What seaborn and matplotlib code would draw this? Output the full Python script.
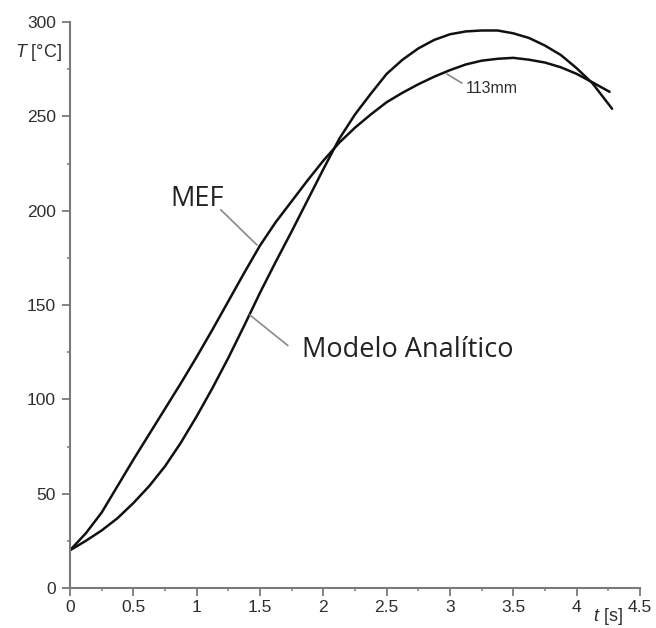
import matplotlib
matplotlib.use("Agg")
import matplotlib.pyplot as plt
from matplotlib.ticker import MultipleLocator
import seaborn as sns
import pandas as pd

# ---- data ----
t_mef = [0.0, 0.125, 0.25, 0.375, 0.5, 0.625, 0.75, 0.875, 1.0, 1.125, 1.25, 1.375, 1.5,
         1.625, 1.75, 1.875, 2.0, 2.125, 2.25, 2.375, 2.5, 2.625, 2.75, 2.875, 3.0, 3.125,
         3.25, 3.375, 3.5, 3.625, 3.75, 3.875, 4.0, 4.125, 4.26]
T_mef = [20, 29, 40, 54, 68, 81.5, 95, 108.5, 122.5, 137, 152, 167, 181.5,
         194, 205, 216, 226.5, 236, 244, 251, 257.5, 262.5, 267, 271, 274.5, 277.5,
         279.5, 280.5, 281, 280, 278.5, 276, 272.5, 268, 263]

t_mod = [0.0, 0.125, 0.25, 0.375, 0.5, 0.625, 0.75, 0.875, 1.0, 1.125, 1.25, 1.375, 1.5,
         1.625, 1.75, 1.875, 2.0, 2.125, 2.25, 2.375, 2.5, 2.625, 2.75, 2.875, 3.0, 3.125,
         3.25, 3.375, 3.5, 3.625, 3.75, 3.875, 4.0, 4.125, 4.28]
T_mod = [20, 25, 30.5, 37, 45, 54, 64.5, 77, 91, 106, 122, 139, 156.5,
         173, 189, 205.5, 222, 238, 251, 262, 272.5, 280, 286, 290.5, 293.5, 295,
         295.5, 295.5, 294, 291.5, 287.5, 282.5, 275.5, 267.5, 254]

x_ticks = [0, 0.5, 1, 1.5, 2, 2.5, 3, 3.5, 4, 4.5]
x_labels = ["0", "0.5", "1", "1.5", "2", "2.5", "3", "3.5", "4", "4.5"]
y_ticks = [0, 50, 100, 150, 200, 250, 300]
y_labels = ["0", "50", "100", "150", "200", "250", "300"]

df_mef = pd.DataFrame({"t": t_mef, "T": T_mef})
df_mod = pd.DataFrame({"t": t_mod, "T": T_mod})

sns.set_theme(style="ticks")
plt.rcParams["font.family"] = ["Liberation Sans", "DejaVu Sans"]
plt.rcParams["mathtext.fontset"] = "custom"
plt.rcParams["mathtext.it"] = "Liberation Sans:italic"
plt.rcParams["mathtext.rm"] = "Liberation Sans"

fig = plt.figure(figsize=(6.56, 6.28), dpi=100)
ax = fig.add_axes([70 / 656, 1 - 588 / 628, 570 / 656, 566 / 628])

line_kw = dict(color="#111111", lw=1.8, estimator=None, sort=False,
               solid_joinstyle="round", solid_capstyle="round")
sns.lineplot(data=df_mef, x="t", y="T", ax=ax, **line_kw)
sns.lineplot(data=df_mod, x="t", y="T", ax=ax, **line_kw)

ax.set_xlim(0, 4.5)
ax.set_ylim(0, 300)
ax.set_xticks(x_ticks)
ax.set_xticklabels(x_labels)
ax.set_yticks(y_ticks)
ax.set_yticklabels(y_labels)
ax.xaxis.set_minor_locator(MultipleLocator(0.25))
ax.yaxis.set_minor_locator(MultipleLocator(25))
ax.set_xlabel("")
ax.set_ylabel("")

sns.despine(ax=ax)
for s in ("left", "bottom"):
    ax.spines[s].set_color("#7a7a7a")
    ax.spines[s].set_linewidth(1.5)
ax.tick_params(which="major", direction="out", length=6, width=1.3, color="#7a7a7a",
               labelsize=12.5, labelcolor="#2e2e2e", pad=3)
ax.tick_params(which="minor", direction="out", length=2.5, width=1.1, color="#7a7a7a")
ax.tick_params(axis="y", which="major", pad=4)

# axis labels
ax.text(-0.06, 284, "$T$ [°C]", ha="right", va="center", fontsize=13, color="#2e2e2e", clip_on=False)
ax.text(4.25, -15.3, "$t$ [s]", ha="center", va="center", fontsize=13, color="#2e2e2e", clip_on=False)

# annotations (leader lines + labels)
lead = dict(arrowstyle="-", color="#8a8a8a", lw=1.2, shrinkA=0, shrinkB=0)
ax.annotate("", xy=(1.476, 181.8), xytext=(1.19, 200.5), arrowprops=lead)
ax.text(1.0, 206, "MEF", ha="center", va="center", fontsize=19.5,
        family=["Open Sans", "DejaVu Sans"], color="#222222")
ax.annotate("", xy=(1.42, 144.7), xytext=(1.72, 128.5), arrowprops=lead)
ax.text(1.83, 126, "Modelo Analítico", ha="left", va="center", fontsize=19.5,
        family=["Open Sans", "DejaVu Sans"], color="#222222")
ax.annotate("", xy=(2.976, 272.4), xytext=(3.094, 267.6), arrowprops=lead)
ax.text(3.125, 265, "113mm", ha="left", va="center", fontsize=11.5, color="#2e2e2e")

fig.savefig("out.png", dpi=100)
